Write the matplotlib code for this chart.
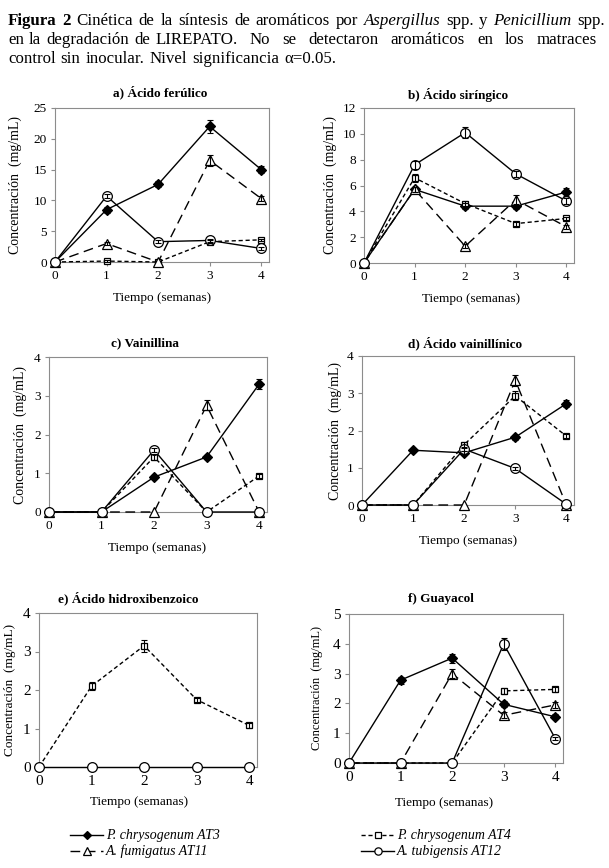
import matplotlib
matplotlib.use("Agg")
import matplotlib.pyplot as plt
from matplotlib.lines import Line2D

plt.rcParams['font.family'] = ['Liberation Serif', 'DejaVu Serif']

W, H = 609, 868

# ---- data (mg/mL), strain order: AT3, AT4, AT11, AT12 ----
weeks = [0, 1, 2, 3, 4]
strains = ['P. chrysogenum AT3', 'P. chrysogenum AT4', 'A. fumigatus AT11', 'A. tubigensis AT12']

ferulico_vals = [[0, 8.5, 12.6, 22.0, 15.0],
                 [0, 0.15, 0, 3.3, 3.6],
                 [0, 3.0, 0, 16.5, 10.3],
                 [0, 10.7, 3.3, 3.5, 2.2]]
ferulico_err = [[0, 0.5, 0.5, 1.0, 0.6],
                [0, 0.1, 0, 0.2, 0.2],
                [0, 0.3, 0, 0.9, 0.4],
                [0, 0.3, 0.2, 0.3, 0.2]]

siringico_vals = [[0, 5.7, 4.4, 4.4, 5.5],
                  [0, 6.6, 4.6, 3.05, 3.45],
                  [0, 5.7, 1.3, 4.9, 2.8],
                  [0, 7.6, 10.1, 6.9, 4.8]]
siringico_err = [[0, 0.2, 0.25, 0.2, 0.3],
                 [0, 0.3, 0.2, 0.15, 0.15],
                 [0, 0.2, 0.15, 0.4, 0.15],
                 [0, 0.3, 0.45, 0.25, 0.2]]

vainillina_vals = [[0, 0, 0.9, 1.42, 3.3],
                   [0, 0, 1.42, 0, 0.93],
                   [0, 0, 0, 2.75, 0],
                   [0, 0, 1.6, 0, 0]]
vainillina_err = [[0, 0, 0.05, 0.05, 0.12],
                  [0, 0, 0.08, 0, 0.04],
                  [0, 0, 0, 0.13, 0],
                  [0, 0, 0.05, 0, 0]]

vainillinico_vals = [[0, 1.47, 1.4, 1.82, 2.72],
                     [0, 0, 1.62, 2.93, 1.85],
                     [0, 0, 0, 3.35, 0],
                     [0, 0, 1.5, 0.98, 0.02]]
vainillinico_err = [[0, 0.04, 0.05, 0.07, 0.1],
                    [0, 0, 0.08, 0.12, 0.05],
                    [0, 0, 0, 0.15, 0],
                    [0, 0, 0.05, 0.03, 0]]

hidroxi_vals = [None,
                [0, 2.1, 3.15, 1.75, 1.08],
                None,
                [0, 0, 0, 0, 0]]
hidroxi_err = [None,
               [0, 0.1, 0.15, 0.05, 0.06],
               None,
               [0, 0, 0, 0, 0]]

guayacol_vals = [[0, 2.78, 3.52, 1.97, 1.55],
                 [0, 0, 0, 2.42, 2.47],
                 [0, 0, 3.0, 1.6, 1.95],
                 [0, 0, 0, 4.0, 0.82]]
guayacol_err = [[0, 0.12, 0.15, 0.1, 0.08],
                [0, 0, 0, 0.1, 0.08],
                [0, 0, 0.15, 0.1, 0.1],
                [0, 0, 0, 0.2, 0.05]]

# line / marker styles per strain
styles = [
    dict(marker='D', mfc='black', ms=5.5, ls='-'),
    dict(marker='s', mfc='white', ms=5, dashes=(3, 2)),
    dict(marker='^', mfc='white', ms=7, dashes=(7, 4)),
    dict(marker='o', mfc='white', ms=7, ls='-'),
]

# panel layout in pixels: axes box (left, top, right, bottom)
panels = [
    dict(vals=ferulico_vals, err=ferulico_err, title='a) Ácido ferúlico', box=(55, 108, 269, 262),
         ymax=25, ystep=5, tx=160, ty=92, xlx=162, xly=298, ylx=15, tfs=9.5, yfs=10),
    dict(vals=siringico_vals, err=siringico_err, title='b) Ácido siríngico', box=(364, 108, 574, 263),
         ymax=12, ystep=2, tx=458, ty=95, xlx=471, xly=299, ylx=330, tfs=9.5, yfs=10),
    dict(vals=vainillina_vals, err=vainillina_err, title='c) Vainillina', box=(49, 357, 267, 512),
         ymax=4, ystep=1, tx=145, ty=343, xlx=157, xly=548, ylx=20, tfs=9.5, yfs=10),
    dict(vals=vainillinico_vals, err=vainillinico_err, title='d) Ácido vainillínico', box=(362, 356, 574, 505),
         ymax=4, ystep=1, tx=465, ty=343, xlx=468, xly=541, ylx=335, tfs=9.5, yfs=10),
    dict(vals=hidroxi_vals, err=hidroxi_err, title='e) Ácido hidroxibenzoico', box=(39, 613, 257, 767),
         ymax=4, ystep=1, tx=128, ty=598, xlx=139, xly=802, ylx=10, tfs=11, yfs=9.5),
    dict(vals=guayacol_vals, err=guayacol_err, title='f) Guayacol', box=(349, 614, 563, 763),
         ymax=5, ystep=1, tx=441, ty=599, xlx=444, xly=803, ylx=317, tfs=11, yfs=9),
]

fig = plt.figure(figsize=(W / 100, H / 100), dpi=100)
fig.patch.set_facecolor('white')

for p in panels:
    l, t, r, b = p['box']
    ax = fig.add_axes([l / W, 1 - b / H, (r - l) / W, (b - t) / H])
    for vals, err, st in zip(p['vals'], p['err'], styles):
        if vals is None:
            continue
        idx = [i for i, e in enumerate(err) if e > 0]
        if idx:
            ax.errorbar([weeks[i] for i in idx], [vals[i] for i in idx], yerr=[err[i] for i in idx],
                        fmt='none', ecolor='black', elinewidth=0.8, capsize=2, capthick=0.8,
                        zorder=4, clip_on=False)
        ax.plot(weeks, vals, color='black', lw=1, mec='black', mew=0.9, clip_on=False, zorder=3, **st)
    ax.set_xlim(0, 4.15)
    ax.set_ylim(0, p['ymax'])
    ax.set_xticks(weeks)
    ax.set_yticks(range(0, p['ymax'] + 1, p['ystep']))
    for s in ax.spines.values():
        s.set_color('#8c8c8c')
        s.set_linewidth(0.8)
    ax.tick_params(axis='both', direction='out', length=3, width=0.8, color='#8c8c8c',
                   labelsize=p['tfs'], pad=3)
    fig.text(p['tx'] / W, 1 - p['ty'] / H, p['title'], ha='center', va='center',
             fontsize=9.5, fontweight='bold')
    fig.text(p['xlx'] / W, 1 - p['xly'] / H, 'Tiempo (semanas)', ha='center', va='center', fontsize=9.5)
    fig.text(p['ylx'] / W, 1 - (t + b) / 2 / H, 'Concentración  (mg/mL)', ha='center', va='center',
             rotation=90, fontsize=p['yfs'])

# ---- legend at the bottom ----
leg_pos = [(70, 835), (361, 835), (70, 851), (361, 851)]
for (x0, y), st, name in zip(leg_pos, styles, strains):
    yy = 1 - y / H
    lst = dict(st)
    lst['ms'] = st['ms'] * 0.75
    ln = Line2D([x0 / W, (x0 + 17) / W, (x0 + 33) / W], [yy, yy, yy], transform=fig.transFigure,
                color='black', lw=1, mec='black', mew=0.9, markevery=[1], **lst)
    fig.add_artist(ln)
    fig.text((x0 + 36) / W, yy, name, ha='left', va='center', fontsize=10, style='italic')

# ---- caption (justified lines) ----
renderer = fig.canvas.get_renderer()


def caption_line(parts, y, x0, x1=None, size=12.2, tight=0):
    # y is the baseline in pixels; the first `tight` words keep normal spacing
    items = []
    for txt, kw in parts:
        for w in txt.split():
            items.append(fig.text(0, 1 - y / H, w, fontsize=size, ha='left', va='baseline', **kw))
    widths = [it.get_window_extent(renderer).width for it in items]
    space = size * 0.3 * 100 / 72
    gaps = [space] * (len(items) - 1)
    if x1 is not None:
        n_loose = len(gaps) - tight
        extra = x1 - x0 - sum(widths) - space * tight
        loose = extra / n_loose
        gaps = [space] * tight + [loose] * n_loose
    x = x0
    for i, (it, wd) in enumerate(zip(items, widths)):
        it.set_x(x / W)
        if i < len(gaps):
            x += wd + gaps[i]


bold = dict(fontweight='bold')
ital = dict(style='italic')
norm = dict()
caption_line([('Figura 2', bold), ('Cinética de la síntesis de aromáticos por', norm),
              ('Aspergillus', ital), ('spp. y', norm), ('Penicillium', ital), ('spp.', norm)],
             25, 8, 605)
caption_line([('en la degradación de LIREPATO. No se detectaron aromáticos en los matraces', norm)],
             44, 8, 597, tight=4)
caption_line([('control sin inocular. Nivel significancia α=0.05.', norm)], 63, 8)

fig.savefig('out.png', dpi=100, facecolor='white')
